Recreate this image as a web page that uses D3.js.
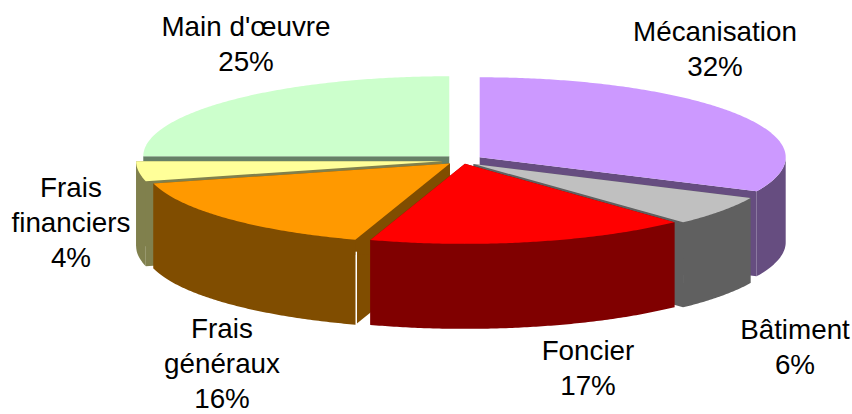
<!DOCTYPE html>
<html><head><meta charset="utf-8">
<script src="https://cdn.jsdelivr.net/npm/d3@7"></script>
<style>html,body{margin:0;padding:0;background:#fff}svg{display:block}text{font-family:"Liberation Sans",Arial,sans-serif;font-size:27.8px;fill:#000;text-anchor:middle}</style>
</head><body><svg id="c" width="852" height="414"></svg>
<script>
const categories = ["Mécanisation","Bâtiment","Foncier","Frais généraux","Frais financiers","Main d'œuvre"];
const values = [32,6,17,16,4,25];
const colors = ["#CC99FF","#C0C0C0","#FF0000","#FF9900","#FFFF99","#CCFFCC"];
const labelLines = [["Mécanisation","32%"],["Bâtiment","6%"],["Foncier","17%"],["Frais","généraux","16%"],["Frais","financiers","4%"],["Main d'œuvre","25%"]];

const W=852,H=414;
const svg=d3.select("#c");
const rx=306, ry=80, depth=85, C=[462,160.5], explode=[18,6];
const nudge=[[2.5,0],[-3,0],[-1,-2.5],[1,-1],[-2,0],[0,0]];
const labelPos=[[715,41],[795,339],[588,360],[222,338],[71,197],[246,36]];
const lineStep=35;
const drawOrder=[5,0,4,1,3,2];

const arcs=d3.pie().sort(null).value(d=>d)(values);
const xs=d3.scaleLinear().domain([-1,1]).range([-rx,rx]);
const ys=d3.scaleLinear().domain([-1,1]).range([ry,-ry]);
const line=d3.line();

function geom(i){
  const a=arcs[i], mid=(a.startAngle+a.endAngle)/2;
  const cx=C[0]+explode[0]*Math.sin(mid)+nudge[i][0];
  const cy=C[1]-explode[1]*Math.cos(mid)+nudge[i][1];
  const P=t=>[cx+xs(Math.sin(t)),cy+ys(Math.cos(t))];
  return {a,cx,cy,P};
}
const down=(p)=>[p[0],p[1]+depth];
function samples(t0,t1){
  const n=Math.max(2,Math.ceil((t1-t0)/0.01));
  return d3.range(n+1).map(k=>t0+(t1-t0)*k/n);
}
drawOrder.forEach(i=>{
  const {a,cx,cy,P}=geom(i), base=d3.color(colors[i]), side=d3.rgb(base.r*.5,base.g*.5,base.b*.5).toString();
  const g=svg.append("g");
  const apex=[cx,cy];
  [a.startAngle,a.endAngle].forEach(t=>{
    const r=P(t);
    g.append("path").attr("d",line([apex,r,down(r),down(apex)])+"Z").attr("fill",side);
  });
  const w0=Math.max(a.startAngle,Math.PI/2), w1=Math.min(a.endAngle,Math.PI*1.5);
  if(w1>w0){
    const s=samples(w0,w1).map(P);
    g.append("path").attr("d",line(s.concat(s.map(down).reverse()))+"Z").attr("fill",side);
  }
  g.append("path").attr("d",line([apex].concat(samples(a.startAngle,a.endAngle).map(P)))+"Z").attr("fill",colors[i]);
  // pale seam at the slice's starting rim corner, as in the reference
  if(i===3){
    const r=P(a.startAngle);
    g.append("path").attr("d",line([[r[0]+1,r[1]+12],[r[0]+1,r[1]+depth]])).attr("stroke","#fff").attr("stroke-width",1.4).attr("fill","none");
  }
});
labelLines.forEach((ls,i)=>{
  const t=svg.append("text");
  ls.forEach((s,k)=>t.append("tspan").attr("x",labelPos[i][0]).attr("y",labelPos[i][1]+k*lineStep).text(s));
});
</script></body></html>
